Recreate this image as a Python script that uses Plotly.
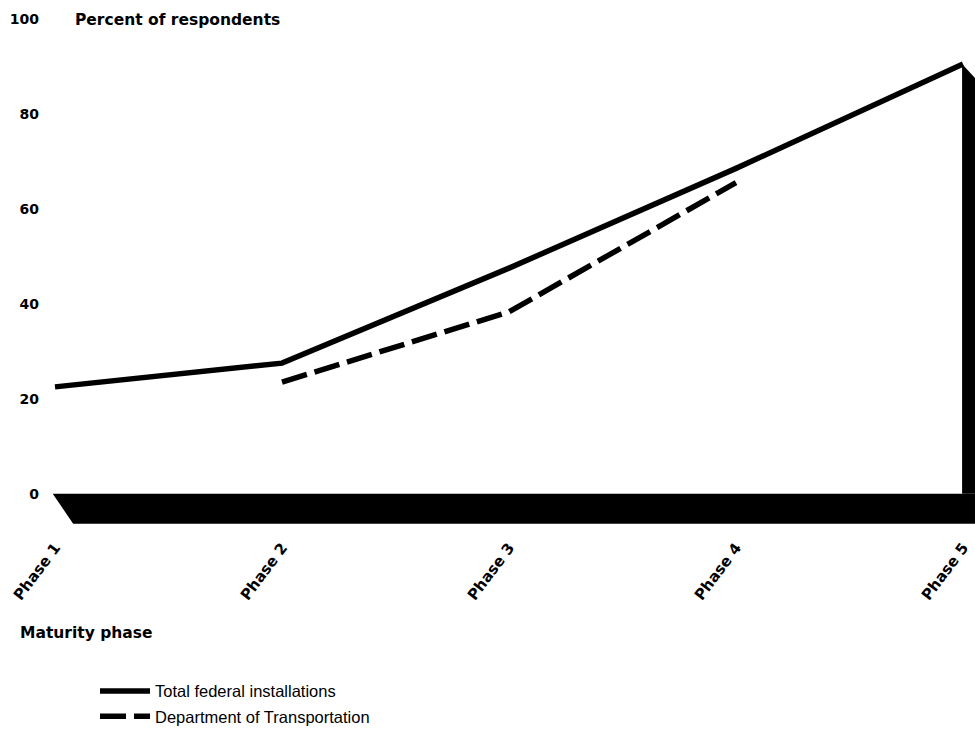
import plotly.graph_objects as go

phases = ["Phase 1", "Phase 2", "Phase 3", "Phase 4", "Phase 5"]
total_federal = [22.5, 27.5, 47.5, 68.5, 90.5]
dot_phases = ["Phase 2", "Phase 3", "Phase 4"]
dot_values = [23.5, 38.3, 65.5]
y_ticks = [0, 20, 40, 60, 80, 100]

BOLD = "DejaVu Sans, Verdana, sans-serif"
REG = "Liberation Sans, Arial, sans-serif"
x_idx = {p: i for i, p in enumerate(phases)}

W, H = 975, 734
plot_l, plot_w = 50, 925
plot_t, plot_h = 14.25, 513
X_END = 4 + 12 / 227

fig = go.Figure()

last = len(phases) - 1
# 3D floor at y=0 and right wall at last phase (decorative)
fig.add_shape(type="path",
              path=f"M -0.01,0 L {X_END + 0.01},0 L {X_END + 0.01},-6.3 L 0.08,-6.3 Z",
              xref="x", yref="y", fillcolor="black", line=dict(width=0), layer="below")
fig.add_shape(type="path",
              path=f"M {last - 0.004},{total_federal[-1]} L {X_END + 0.01},{total_federal[-1] - 3.5} "
                   f"L {X_END + 0.01},0 L {last - 0.004},0 Z",
              xref="x", yref="y", fillcolor="black", line=dict(width=0), layer="below")

fig.add_trace(go.Scatter(
    x=[x_idx[p] for p in phases], y=total_federal, mode="lines",
    name="Total federal installations",
    line=dict(color="black", width=5.5), legend="legend"))
fig.add_trace(go.Scatter(
    x=[x_idx[p] for p in dot_phases], y=dot_values, mode="lines",
    name="Department of Transportation",
    line=dict(color="black", width=5.5, dash="26px,8px"), legend="legend2"))


def px_to_paper(px, py):
    return (px - plot_l) / plot_w, (plot_t + plot_h - py) / plot_h


tx, ty = px_to_paper(73, 20)
mx, my = px_to_paper(18, 633)
l1x, l1y = px_to_paper(95, 674)
l2x, l2y = px_to_paper(95, 700)

fig.update_layout(
    width=W, height=H,
    margin=dict(l=plot_l, r=0, t=plot_t, b=H - plot_t - plot_h),
    plot_bgcolor="white", paper_bgcolor="white",
    font=dict(family=REG, color="black"),
    xaxis=dict(range=[-5 / 227, X_END], tickmode="array",
               tickvals=list(range(len(phases))), ticktext=[f"<b>{p}</b>" for p in phases],
               tickangle=-53, showgrid=False, zeroline=False, showline=False,
               ticks="", ticklabelstandoff=8, tickfont=dict(size=15, family=BOLD)),
    yaxis=dict(range=[-7, 101], tickmode="array", tickvals=y_ticks,
               ticktext=[f"<b>{v}</b>" for v in y_ticks],
               showgrid=False, zeroline=False, showline=False, ticks="",
               ticklabelstandoff=10, tickfont=dict(size=14, family=BOLD)),
    showlegend=True,
    legend=dict(x=l1x, y=l1y, xanchor="left", yanchor="top", itemwidth=50,
                font=dict(size=16.5, family=REG), bgcolor="rgba(0,0,0,0)"),
    legend2=dict(x=l2x, y=l2y, xanchor="left", yanchor="top", itemwidth=50,
                 font=dict(size=16.5, family=REG), bgcolor="rgba(0,0,0,0)"),
    annotations=[
        dict(text="<b>Percent of respondents</b>", x=tx, y=ty, xref="paper", yref="paper",
             showarrow=False, font=dict(size=15.5, family=BOLD), xanchor="left", yanchor="middle"),
        dict(text="<b>Maturity phase</b>", x=mx, y=my, xref="paper", yref="paper",
             showarrow=False, font=dict(size=15.5, family=BOLD), xanchor="left", yanchor="middle"),
    ],
)

fig.write_html(
    "out.html",
    config={"displayModeBar": False},
    post_script="document.body.style.margin='0';document.body.style.overflow='hidden';",
)
